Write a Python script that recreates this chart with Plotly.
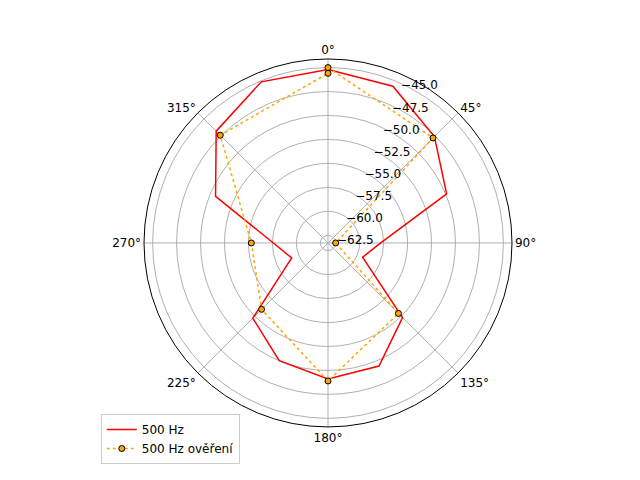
import plotly.graph_objects as go

# measured response, 22.5 degree steps
theta_main = [0, 22.5, 45, 67.5, 90, 112.5, 135, 157.5, 180, 202.5, 225, 247.5, 270, 292.5, 315, 337.5, 360]
r_main = [-45.2, -45.6, -47.6, -49.9, -57.8, -59.4, -52.3, -49.4, -49.1, -50.0, -52.2, -59.2, -57.6, -50.6, -46.8, -45.1, -45.2]

# verification, 45 degree steps
theta_check = [0, 45, 90, 135, 180, 225, 270, 315, 360]
r_check = [-45.0, -47.8, -62.5, -52.9, -48.9, -53.5, -55.3, -47.4, -45.6]

fig = go.Figure()
fig.add_trace(go.Scatterpolar(
    theta=theta_main, r=r_main, mode="lines", name="500 Hz",
    line=dict(color="red", width=1.5),
))
fig.add_trace(go.Scatterpolar(
    theta=theta_check, r=r_check, mode="lines+markers", name="500 Hz ověření",
    line=dict(color="orange", width=1.5, dash="dot"),
    marker=dict(color="orange", size=6, line=dict(color="black", width=1)),
))

fig.update_layout(
    width=640, height=480,
    margin=dict(l=0, r=0, t=0, b=0),
    paper_bgcolor="white",
    font=dict(family="DejaVu Sans", size=12, color="black"),
    polar=dict(
        domain=dict(x=[0.2125, 0.7875], y=[0.127, 0.894]),
        bgcolor="white",
        angularaxis=dict(
            rotation=90, direction="clockwise",
            tickmode="array", tickvals=[0, 45, 90, 135, 180, 225, 270, 315],
            ticktext=["0°", "45°", "90°", "135°", "180°", "225°", "270°", "315°"],
            gridcolor="#b0b0b0", linecolor="black", linewidth=1, ticks="",
        ),
        radialaxis=dict(
            range=[-63.3, -44.1], angle=67.5, tickangle=67.5,
            tickmode="array", tickvals=[-62.5, -60, -57.5, -55, -52.5, -50, -47.5, -45],
            ticktext=["−62.5", "−60.0", "−57.5", "−55.0", "−52.5", "−50.0", "−47.5", "−45.0"],
            gridcolor="#b0b0b0", showline=False, ticks="",
        ),
    ),
    legend=dict(
        x=0.145, y=0.05, xanchor="left", yanchor="bottom",
        bordercolor="#cccccc", borderwidth=1, bgcolor="white",
    ),
)

fig.write_html("out.html")
